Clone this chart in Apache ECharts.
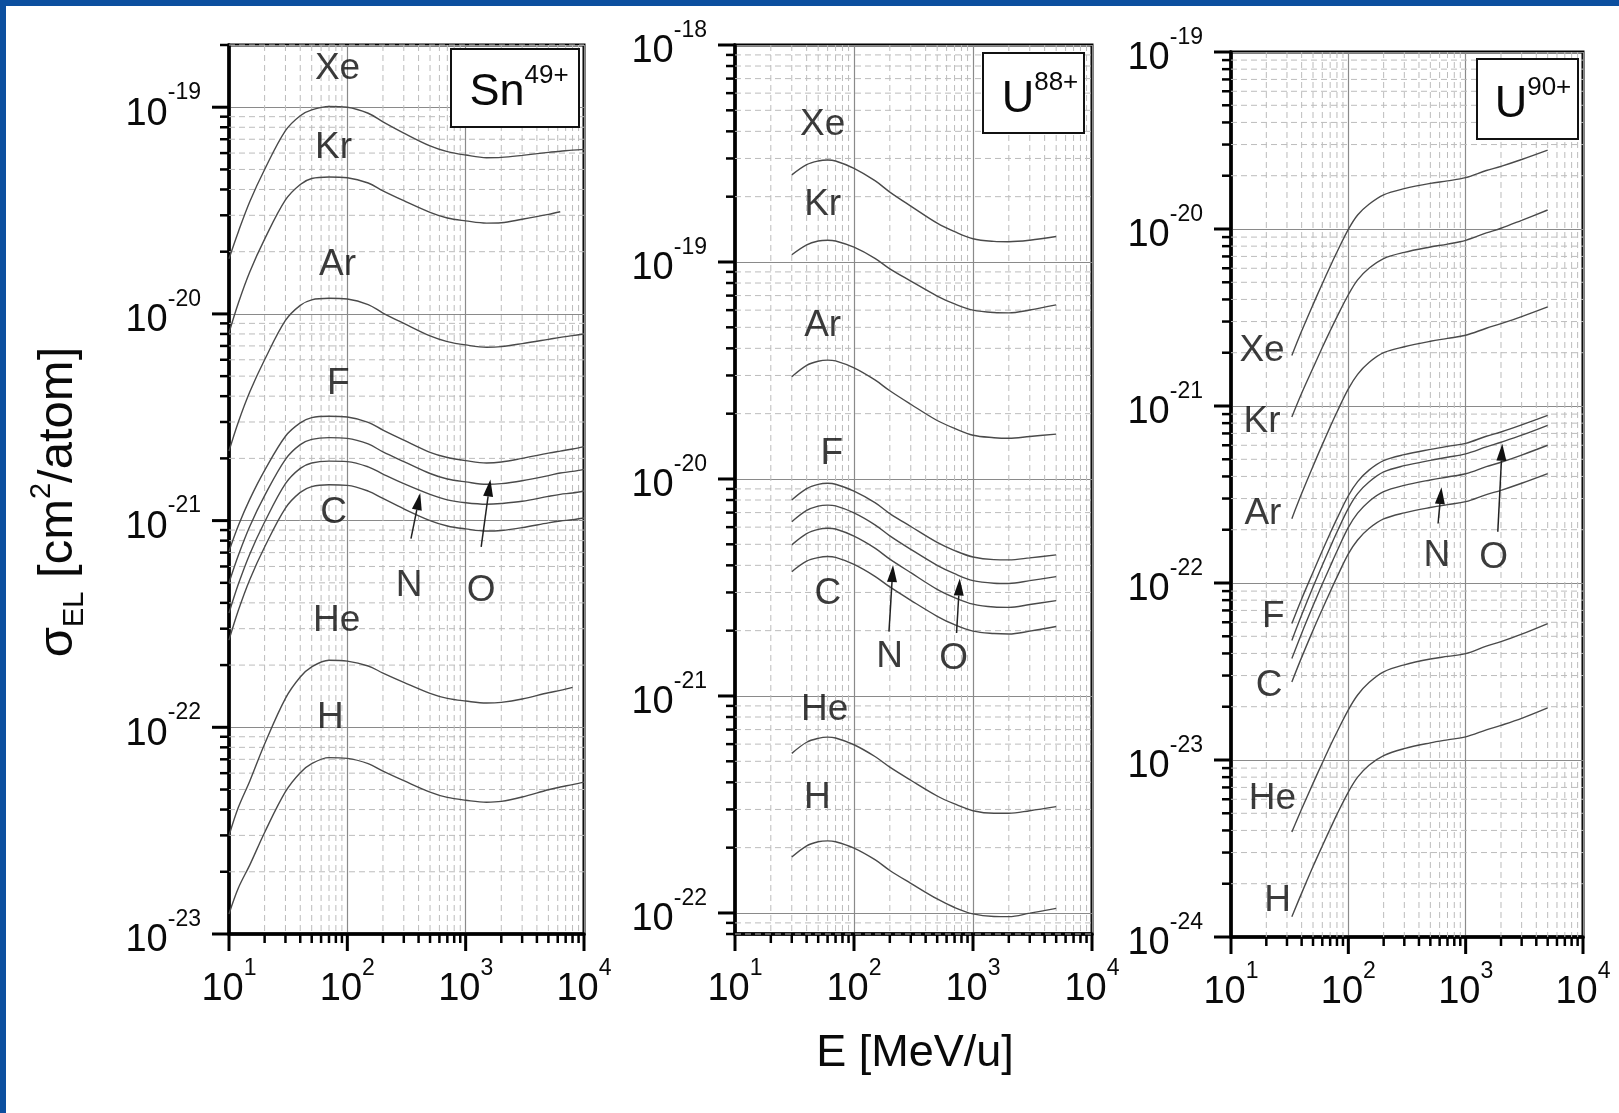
<!DOCTYPE html>
<html>
<head>
<meta charset="utf-8">
<title>Electron loss cross sections</title>
<script src="https://cdn.jsdelivr.net/npm/echarts@6/dist/echarts.min.js"></script>
<style>
  html, body { margin: 0; padding: 0; background: #ffffff; }
  #chart { width: 1619px; height: 1113px; }
</style>
</head>
<body>
<div id="chart"></div>
<script>
// ================= DATA =================
// Panel 1 : Sn49+
const E_Sn = [10, 12, 15, 20, 30, 40, 50, 70, 100, 150, 200, 300, 500, 700, 1000, 1500, 2000, 3000, 5000, 6300, 8000, 10000];
const Sn_Xe = [1.85e-20, 2.5e-20, 3.5e-20, 5.0e-20, 7.7e-20, 9.1e-20, 9.7e-20, 1.01e-19, 1.0e-19, 9.35e-20, 8.5e-20, 7.5e-20, 6.5e-20, 6.1e-20, 5.87e-20, 5.7e-20, 5.72e-20, 5.85e-20, 6.05e-20, 6.12e-20, 6.2e-20, 6.25e-20];
const Sn_Kr = [8.1e-21, 1.13e-20, 1.6e-20, 2.3e-20, 3.56e-20, 4.23e-20, 4.52e-20, 4.6e-20, 4.56e-20, 4.3e-20, 3.94e-20, 3.53e-20, 3.1e-20, 2.91e-20, 2.82e-20, 2.75e-20, 2.76e-20, 2.87e-20, 3.03e-20, 3.12e-20, null, null];
const Sn_Ar = [2.17e-21, 3.0e-21, 4.2e-21, 6.0e-21, 9.3e-21, 1.1e-20, 1.17e-20, 1.19e-20, 1.18e-20, 1.11e-20, 1.01e-20, 9.0e-21, 7.83e-21, 7.35e-21, 7.08e-21, 6.9e-21, 6.95e-21, 7.18e-21, 7.53e-21, 7.7e-21, 7.85e-21, 8.0e-21];
const Sn_F  = [7.1e-22, 9.46e-22, 1.27e-21, 1.75e-21, 2.56e-21, 2.97e-21, 3.15e-21, 3.2e-21, 3.17e-21, 2.99e-21, 2.74e-21, 2.45e-21, 2.14e-21, 2.02e-21, 1.95e-21, 1.9e-21, 1.92e-21, 2.0e-21, 2.12e-21, 2.17e-21, 2.22e-21, 2.28e-21];
const Sn_O  = [5.0e-22, 6.8e-22, 9.4e-22, 1.32e-21, 1.98e-21, 2.33e-21, 2.47e-21, 2.52e-21, 2.5e-21, 2.35e-21, 2.15e-21, 1.93e-21, 1.69e-21, 1.59e-21, 1.54e-21, 1.5e-21, 1.51e-21, 1.56e-21, 1.65e-21, 1.7e-21, 1.73e-21, 1.77e-21];
const Sn_N  = [3.57e-22, 4.93e-22, 6.9e-22, 9.84e-22, 1.51e-21, 1.79e-21, 1.9e-21, 1.94e-21, 1.93e-21, 1.82e-21, 1.68e-21, 1.51e-21, 1.34e-21, 1.26e-21, 1.22e-21, 1.2e-21, 1.21e-21, 1.24e-21, 1.31e-21, 1.34e-21, 1.36e-21, 1.39e-21];
const Sn_C  = [2.64e-22, 3.68e-22, 5.19e-22, 7.45e-22, 1.15e-21, 1.37e-21, 1.46e-21, 1.49e-21, 1.48e-21, 1.39e-21, 1.28e-21, 1.14e-21, 1.0e-21, 9.42e-22, 9.12e-22, 8.9e-22, 8.96e-22, 9.25e-22, 9.75e-22, 9.95e-22, 1.01e-21, 1.03e-21];
const Sn_He = [2.99e-23, 4.1e-23, 5.5e-23, 8.3e-23, 1.38e-22, 1.75e-22, 1.96e-22, 2.11e-22, 2.09e-22, 1.98e-22, 1.83e-22, 1.65e-22, 1.46e-22, 1.38e-22, 1.34e-22, 1.31e-22, 1.32e-22, 1.37e-22, 1.47e-22, 1.51e-22, 1.56e-22, null];
const Sn_H  = [1.25e-23, 1.67e-23, 2.16e-23, 3.1e-23, 4.88e-23, 6.03e-23, 6.67e-23, 7.13e-23, 7.07e-23, 6.67e-23, 6.14e-23, 5.52e-23, 4.86e-23, 4.58e-23, 4.44e-23, 4.34e-23, 4.38e-23, 4.6e-23, 4.99e-23, 5.14e-23, 5.28e-23, 5.43e-23];

// Panel 2 : U88+
const E_U88 = [30, 40, 50, 60, 70, 100, 150, 200, 300, 500, 700, 1000, 1500, 2000, 3000, 5000];
const U88_Xe = [2.52e-19, 2.81e-19, 2.92e-19, 2.95e-19, 2.92e-19, 2.7e-19, 2.37e-19, 2.1e-19, 1.81e-19, 1.51e-19, 1.38e-19, 1.28e-19, 1.245e-19, 1.24e-19, 1.26e-19, 1.31e-19];
const U88_Kr = [1.08e-19, 1.2e-19, 1.25e-19, 1.26e-19, 1.25e-19, 1.17e-19, 1.04e-19, 9.3e-20, 8.17e-20, 6.97e-20, 6.41e-20, 6.0e-20, 5.85e-20, 5.83e-20, 6.01e-20, 6.34e-20];
const U88_Ar = [2.96e-20, 3.34e-20, 3.49e-20, 3.53e-20, 3.5e-20, 3.25e-20, 2.86e-20, 2.55e-20, 2.21e-20, 1.86e-20, 1.71e-20, 1.59e-20, 1.55e-20, 1.54e-20, 1.57e-20, 1.61e-20];
const U88_F  = [8.0e-21, 9.02e-21, 9.44e-21, 9.55e-21, 9.46e-21, 8.79e-21, 7.78e-21, 6.93e-21, 6.04e-21, 5.1e-21, 4.68e-21, 4.37e-21, 4.25e-21, 4.24e-21, 4.33e-21, 4.47e-21];
const U88_O  = [6.35e-21, 7.16e-21, 7.5e-21, 7.58e-21, 7.52e-21, 6.98e-21, 6.15e-21, 5.47e-21, 4.74e-21, 4.0e-21, 3.66e-21, 3.4e-21, 3.31e-21, 3.3e-21, 3.4e-21, 3.55e-21];
const U88_N  = [4.97e-21, 5.6e-21, 5.86e-21, 5.93e-21, 5.88e-21, 5.45e-21, 4.8e-21, 4.27e-21, 3.7e-21, 3.1e-21, 2.84e-21, 2.65e-21, 2.57e-21, 2.56e-21, 2.64e-21, 2.75e-21];
const U88_C  = [3.74e-21, 4.18e-21, 4.34e-21, 4.39e-21, 4.35e-21, 4.04e-21, 3.56e-21, 3.18e-21, 2.76e-21, 2.33e-21, 2.13e-21, 1.99e-21, 1.94e-21, 1.93e-21, 1.99e-21, 2.09e-21];
const U88_He = [5.44e-22, 6.12e-22, 6.38e-22, 6.46e-22, 6.4e-22, 5.96e-22, 5.26e-22, 4.7e-22, 4.09e-22, 3.46e-22, 3.18e-22, 2.96e-22, 2.88e-22, 2.88e-22, 2.96e-22, 3.09e-22];
const U88_H  = [1.81e-22, 2.04e-22, 2.13e-22, 2.15e-22, 2.13e-22, 1.99e-22, 1.76e-22, 1.57e-22, 1.37e-22, 1.16e-22, 1.06e-22, 9.9e-23, 9.64e-23, 9.62e-23, 9.98e-23, 1.05e-22];

// Panel 3 : U90+
const E_U90 = [33, 40, 50, 60, 70, 80, 100, 120, 150, 200, 300, 500, 700, 1000, 1500, 2000, 3000, 5000];
const U90_Xe = [1.93e-21, 2.65e-21, 3.74e-21, 4.91e-21, 6.14e-21, 7.41e-21, 9.95e-21, 1.2e-20, 1.38e-20, 1.56e-20, 1.69e-20, 1.81e-20, 1.87e-20, 1.95e-20, 2.14e-20, 2.26e-20, 2.47e-20, 2.79e-20];
const U90_Kr = [8.67e-22, 1.18e-21, 1.64e-21, 2.14e-21, 2.66e-21, 3.19e-21, 4.25e-21, 5.16e-21, 6.0e-21, 6.81e-21, 7.38e-21, 7.91e-21, 8.22e-21, 8.63e-21, 9.5e-21, 1.01e-20, 1.12e-20, 1.28e-20];
const U90_Ar = [2.31e-22, 3.2e-22, 4.57e-22, 6.05e-22, 7.62e-22, 9.25e-22, 1.25e-21, 1.51e-21, 1.76e-21, 2.0e-21, 2.16e-21, 2.32e-21, 2.41e-21, 2.51e-21, 2.75e-21, 2.92e-21, 3.2e-21, 3.63e-21];
const U90_F  = [5.9e-23, 8.13e-23, 1.15e-22, 1.52e-22, 1.91e-22, 2.31e-22, 3.11e-22, 3.74e-22, 4.34e-22, 4.91e-22, 5.31e-22, 5.69e-22, 5.92e-22, 6.15e-22, 6.75e-22, 7.13e-22, 7.82e-22, 8.85e-22];
const U90_O  = [4.74e-23, 6.59e-23, 9.48e-23, 1.26e-22, 1.59e-22, 1.94e-22, 2.64e-22, 3.2e-22, 3.72e-22, 4.24e-22, 4.6e-22, 4.93e-22, 5.13e-22, 5.36e-22, 5.87e-22, 6.24e-22, 6.84e-22, 7.78e-22];
const U90_N  = [3.74e-23, 5.19e-23, 7.43e-23, 9.86e-23, 1.24e-22, 1.51e-22, 2.06e-22, 2.48e-22, 2.89e-22, 3.28e-22, 3.56e-22, 3.82e-22, 3.97e-22, 4.14e-22, 4.54e-22, 4.81e-22, 5.28e-22, 6.0e-22];
const U90_C  = [2.76e-23, 3.8e-23, 5.4e-23, 7.11e-23, 8.93e-23, 1.08e-22, 1.46e-22, 1.75e-22, 2.03e-22, 2.3e-22, 2.49e-22, 2.67e-22, 2.77e-22, 2.88e-22, 3.16e-22, 3.34e-22, 3.66e-22, 4.15e-22];
const U90_He = [3.92e-24, 5.28e-24, 7.38e-24, 9.62e-24, 1.2e-23, 1.44e-23, 1.92e-23, 2.33e-23, 2.74e-23, 3.15e-23, 3.45e-23, 3.72e-23, 3.85e-23, 3.99e-23, 4.4e-23, 4.66e-23, 5.14e-23, 5.9e-23];
const U90_H  = [1.3e-24, 1.77e-24, 2.5e-24, 3.27e-24, 4.08e-24, 4.93e-24, 6.59e-24, 8.0e-24, 9.35e-24, 1.06e-23, 1.16e-23, 1.25e-23, 1.3e-23, 1.35e-23, 1.48e-23, 1.57e-23, 1.72e-23, 1.97e-23];

// Curve annotations (target names) : anchor [E, sigma]
const labelNames = ['Xe', 'Kr', 'Ar', 'F', 'C', 'N', 'O', 'He', 'H'];
const Sn_labelE  = [82.6, 76.4, 82.6, 84, 76.4, 332, 1352, 81.3, 72];
const Sn_labelS  = [1.54e-19, 6.34e-20, 1.72e-20, 4.57e-21, 1.09e-21, 4.86e-22, 4.59e-22, 3.29e-22, 1.11e-22];
const U88_labelE = [54.5, 54.5, 54.5, 65.2, 60.3, 199.5, 689, 56.8, 49.2];
const U88_labelS = [4.28e-19, 1.84e-19, 5.06e-20, 1.3e-20, 2.96e-21, 1.52e-21, 1.49e-21, 8.6e-22, 3.39e-22];
const U90_labelE = [18.4, 18.4, 18.7, 22.9, 21.1, 569, 1729, 22.5, 24.9];
const U90_labelS = [2.04e-21, 8.17e-22, 2.47e-22, 6.45e-23, 2.62e-23, 1.43e-22, 1.39e-22, 6.07e-24, 1.61e-24];

// Arrows (N, O): [E_tail, sigma_tail, E_tip, sigma_tip]
const Sn_arrows  = [[345, 8.18e-22, 413, 1.36e-21], [1352, 7.46e-22, 1618, 1.58e-21]];
const U88_arrows = [[196.8, 1.98e-21, 212.8, 4.01e-21], [727.5, 1.95e-21, 774, 3.48e-21]];
const U90_arrows = [[582, 2.17e-22, 622, 3.48e-22], [1879, 1.95e-22, 2051, 6.12e-22]];

// Axis ranges
const E_range = [10, 10000];
const Sn_sigmaRange  = [1e-23, 2e-19];
const U88_sigmaRange = [8e-23, 1e-18];
const U90_sigmaRange = [1e-24, 1e-19];

// ================= CHART =================
const FONT = '"Liberation Sans", Arial, Helvetica, sans-serif';
const TXT = '#0a0a0a';
const CURVE = '#4a4a4a';

const panels = [
  { E: E_Sn, curves: [Sn_Xe, Sn_Kr, Sn_Ar, Sn_F, Sn_O, Sn_N, Sn_C, Sn_He, Sn_H],
    labE: Sn_labelE, labS: Sn_labelS, arrows: Sn_arrows, yr: Sn_sigmaRange,
    grid: { left: 229, top: 45, width: 355, height: 889 } },
  { E: E_U88, curves: [U88_Xe, U88_Kr, U88_Ar, U88_F, U88_O, U88_N, U88_C, U88_He, U88_H],
    labE: U88_labelE, labS: U88_labelS, arrows: U88_arrows, yr: U88_sigmaRange,
    grid: { left: 735, top: 45, width: 357, height: 889 } },
  { E: E_U90, curves: [U90_Xe, U90_Kr, U90_Ar, U90_F, U90_O, U90_N, U90_C, U90_He, U90_H],
    labE: U90_labelE, labS: U90_labelS, arrows: U90_arrows, yr: U90_sigmaRange,
    grid: { left: 1231, top: 52, width: 352, height: 885 } }
];

const lg = v => Math.log10(v);
const isInt = v => Math.abs(v - Math.round(v)) < 1e-6;

const tickRich = {
  b: { fontSize: 38, fontFamily: FONT, color: TXT, fill: TXT, lineHeight: 52, verticalAlign: 'bottom' },
  s: { fontSize: 23, fontFamily: FONT, color: TXT, fill: TXT, lineHeight: 23, verticalAlign: 'top' }
};

const grids = [], xAxes = [], yAxes = [], series = [];

panels.forEach((p, i) => {
  grids.push(Object.assign({ show: true, borderColor: '#000', borderWidth: 3, backgroundColor: 'transparent' }, p.grid));
  xAxes.push({
    type: 'log', logBase: 10, gridIndex: i, min: E_range[0], max: E_range[1],
    axisLine: { show: true, onZero: false, lineStyle: { color: '#000', width: 3.5 } },
    axisTick: { show: false },
    axisLabel: {
      margin: 23,
      formatter: v => { const e = lg(v); return isInt(e) ? '{b|10}{s|' + Math.round(e) + '}' : ''; },
      rich: tickRich
    },
    splitLine: { show: true, lineStyle: { color: '#8a8a8a', width: 1.2 } }
  });
  const ymin = lg(p.yr[0]), ymax = lg(p.yr[1]);
  const ya = {
    type: 'value', gridIndex: i, min: ymin, max: ymax,
    axisLine: { show: true, onZero: false, lineStyle: { color: '#000', width: 3.5 } },
    axisTick: { show: false },
    axisLabel: {
      margin: 28,
      formatter: v => isInt(v) ? '{b|10}{s|' + Math.round(v) + '}' : '',
      rich: tickRich
    },
    splitLine: { show: true, lineStyle: { color: '#8a8a8a', width: 1.2 } }
  };
  if (isInt(ymin)) { ya.interval = 1; } else { ya.splitNumber = 4; }
  yAxes.push(ya);

  // minor grid + all ticks (through the axes' own scales)
  const xmin = lg(E_range[0]), xmax = lg(E_range[1]);
  series.push({
    type: 'custom', xAxisIndex: i, yAxisIndex: i, z: 1, silent: true, clip: false,
    data: [[E_range[0], ymin]],
    renderItem: (params, api) => {
      const cs = params.coordSys;
      const L = cs.x, T = cs.y, R = cs.x + cs.width, B = cs.y + cs.height;
      const ch = [];
      for (let d = Math.floor(xmin); d <= Math.ceil(xmax); d++) {
        for (let k = 1; k <= 9; k++) {
          const lv = d + Math.log10(k);
          if (lv < xmin - 1e-9 || lv > xmax + 1e-9) continue;
          const x = api.coord([Math.pow(10, lv), ymin])[0];
          if (k > 1) ch.push({ type: 'line', shape: { x1: x, y1: T, x2: x, y2: B },
            style: { stroke: '#bcbcbc', lineWidth: 1, lineDash: [6, 4] } });
          ch.push({ type: 'line', shape: { x1: x, y1: B, x2: x, y2: B + (k === 1 ? 17 : 9) },
            style: { stroke: '#000', lineWidth: k === 1 ? 3 : 2.5 } });
        }
      }
      for (let d = Math.floor(ymin); d <= Math.ceil(ymax); d++) {
        for (let k = 1; k <= 9; k++) {
          const lv = d + Math.log10(k);
          if (lv < ymin - 1e-9 || lv > ymax + 1e-9) continue;
          const y = api.coord([E_range[0], lv])[1];
          if (k > 1) ch.push({ type: 'line', shape: { x1: L, y1: y, x2: R, y2: y },
            style: { stroke: '#bcbcbc', lineWidth: 1, lineDash: [6, 4] } });
          ch.push({ type: 'line', shape: { x1: L - (k === 1 ? 17 : 9), y1: y, x2: L, y2: y },
            style: { stroke: '#000', lineWidth: k === 1 ? 3 : 2.5 } });
        }
      }
      return { type: 'group', children: ch };
    }
  });

  // curves
  p.curves.forEach((vals, c) => {
    series.push({
      type: 'line', name: labelNames[c], xAxisIndex: i, yAxisIndex: i, z: 3,
      showSymbol: false, symbol: 'none', smooth: 0.35, silent: true,
      lineStyle: { color: CURVE, width: 1.4 },
      data: p.E.map((e, k) => [e, vals[k]]).filter(d => d[1] != null).map(d => [d[0], lg(d[1])])
    });
  });

  // target labels
  series.push({
    type: 'scatter', xAxisIndex: i, yAxisIndex: i, z: 5, silent: true,
    symbolSize: 1, itemStyle: { color: 'rgba(0,0,0,0)' },
    label: { show: true, position: 'inside', formatter: '{b}', color: TXT, fontSize: 37, fontFamily: FONT },
    data: labelNames.map((n, k) => ({ name: n, value: [p.labE[k], lg(p.labS[k])] }))
  });

  // arrows
  series.push({
    type: 'custom', xAxisIndex: i, yAxisIndex: i, z: 4, silent: true, clip: false,
    encode: { x: [0, 2], y: [1, 3] },
    data: p.arrows.map(a => [a[0], lg(a[1]), a[2], lg(a[3])]),
    renderItem: (params, api) => {
      const p1 = api.coord([api.value(0), api.value(1)]);
      const p2 = api.coord([api.value(2), api.value(3)]);
      const dx = p2[0] - p1[0], dy = p2[1] - p1[1];
      const len = Math.hypot(dx, dy), ux = dx / len, uy = dy / len;
      const hl = 17, hw = 5;
      const bx = p2[0] - ux * hl, by = p2[1] - uy * hl;
      return { type: 'group', children: [
        { type: 'line', shape: { x1: p1[0], y1: p1[1], x2: bx, y2: by }, style: { stroke: '#222', lineWidth: 1.5 } },
        { type: 'polygon', shape: { points: [[p2[0], p2[1]], [bx - uy * hw, by + ux * hw], [bx + uy * hw, by - ux * hw]] },
          style: { fill: '#111' } }
      ]};
    }
  });
});

const ionRich = {
  b: { fontSize: 45, fontFamily: FONT, fill: TXT, color: TXT, lineHeight: 52, verticalAlign: 'bottom' },
  s: { fontSize: 26, fontFamily: FONT, fill: TXT, color: TXT, lineHeight: 26, verticalAlign: 'top' }
};
function ionBox(x, y, w, h, base, sup, tx, ty) {
  return [
    { type: 'rect', z: 100, shape: { x: x, y: y, width: w, height: h }, style: { fill: '#fff', stroke: '#111', lineWidth: 2 } },
    { type: 'text', z: 101, x: tx, y: ty, style: { text: '{b|' + base + '}{s|' + sup + '}', rich: ionRich,
      align: 'center', verticalAlign: 'middle', textAlign: 'center', textVerticalAlign: 'middle' } }
  ];
}

const titleRich = {
  a: { fontSize: 49, fontFamily: FONT, fill: TXT, color: TXT, lineHeight: 62, verticalAlign: 'middle' },
  sub: { fontSize: 29, fontFamily: FONT, fill: TXT, color: TXT, lineHeight: 29, verticalAlign: 'bottom' },
  sup: { fontSize: 29, fontFamily: FONT, fill: TXT, color: TXT, lineHeight: 29, verticalAlign: 'top' }
};

const graphic = [
  { type: 'rect', z: 200, shape: { x: 0, y: 0, width: 1619, height: 6 }, style: { fill: '#0c4f9f' } },
  { type: 'rect', z: 200, shape: { x: 0, y: 0, width: 6, height: 1113 }, style: { fill: '#0c4f9f' } },
  ...ionBox(451, 49, 128, 78, 'Sn', '49+', 519, 89),
  ...ionBox(983, 53, 101, 80, 'U', '88+', 1040, 96),
  ...ionBox(1477, 59, 101, 80, 'U', '90+', 1533, 101),
  { type: 'text', z: 101, x: 915, y: 1054, style: { text: 'E [MeV/u]', font: '45px ' + FONT, fill: TXT,
      align: 'center', verticalAlign: 'middle', textAlign: 'center', textVerticalAlign: 'middle' } },
  { type: 'text', z: 101, x: 58, y: 502, rotation: Math.PI / 2,
    style: { text: '{a|σ}{sub|EL}{a| [cm}{sup|2}{a|/atom]}', rich: titleRich,
      align: 'center', verticalAlign: 'middle', textAlign: 'center', textVerticalAlign: 'middle' } }
];

const chart = echarts.init(document.getElementById('chart'), null, { renderer: 'canvas' });
chart.setOption({
  backgroundColor: '#ffffff',
  animation: false,
  grid: grids,
  xAxis: xAxes,
  yAxis: yAxes,
  series: series,
  graphic: graphic
});
</script>
</body>
</html>
